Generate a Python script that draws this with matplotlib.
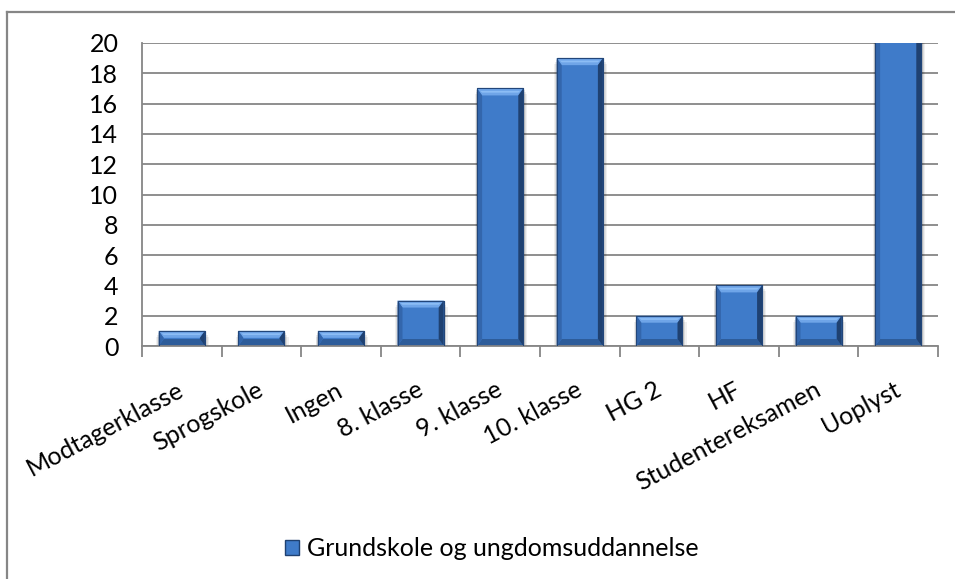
import matplotlib
matplotlib.use("Agg")
import matplotlib.pyplot as plt
import matplotlib.transforms as mtrans
from matplotlib.patches import Polygon, Patch, Rectangle
from matplotlib.lines import Line2D

categories = ["Modtagerklasse", "Sprogskole", "Ingen", "8. klasse", "9. klasse",
              "10. klasse", "HG 2", "HF", "Studentereksamen", "Uoplyst"]
values = [1, 1, 1, 3, 17, 19, 2, 4, 2, 22]
series_name = "Grundskole og ungdomsuddannelse"
yticks = [0, 2, 4, 6, 8, 10, 12, 14, 16, 18, 20]

plt.rcParams['font.family'] = ['Lato', 'DejaVu Sans']

W, H, DPI = 955, 579, 100
fig = plt.figure(figsize=(W / DPI, H / DPI), dpi=DPI)
L, R, T, B = 142, 938, 43, 346
ax = fig.add_axes([L / W, 1 - B / H, (R - L) / W, (B - T) / H])

grey = "#868686"
face = "#3F7BC9"
xs = list(range(len(categories)))
bw = 0.58

ax.set_xlim(-0.5, len(categories) - 0.5)
ax.set_ylim(0, 20)
ax.set_yticks(yticks)
ax.yaxis.grid(True, color=grey, lw=1.3)
ax.set_axisbelow(True)

# soft shadows
px_x = (len(categories)) / (R - L)
px_y = 20 / (B - T)
for i, v in zip(xs, values):
    for k, a in zip([6, 4, 2], [0.06, 0.08, 0.10]):
        ax.add_patch(Rectangle((i - bw / 2 - k * 0.4 * px_x, -k * px_y), bw + k * 1.1 * px_x,
                               v, color="#000000", alpha=a, lw=0, zorder=1.5, clip_on=True))

bars = ax.bar(xs, values, width=bw, color=face, edgecolor="#244a7d", lw=0.8, zorder=2)

dx = 5 * px_x
dy = 7 * px_y
for p in bars:
    x0 = p.get_x(); x1 = x0 + p.get_width(); y0 = 0; y1 = p.get_height()
    polys = [
        ([(x0, y1), (x1, y1), (x1 - dx, y1 - dy), (x0 + dx, y1 - dy)], "#6FA5E8"),
        ([(x0, y0), (x1, y0), (x1 - dx, y0 + dy), (x0 + dx, y0 + dy)], "#2D5C9A"),
        ([(x0, y0), (x0, y1), (x0 + dx, y1 - dy), (x0 + dx, y0 + dy)], "#3366AC"),
        ([(x1, y0), (x1, y1), (x1 - dx, y1 - dy), (x1 - dx, y0 + dy)], "#1F4171"),
    ]
    for pts, c in polys:
        ax.add_patch(Polygon(pts, closed=True, color=c, lw=0, zorder=2.5))
    ax.add_patch(Polygon([(x0 + dx * 0.6, y1 - dy * 0.35), (x1 - dx * 0.6, y1 - dy * 0.35),
                          (x1 - dx, y1 - dy * 0.6), (x0 + dx, y1 - dy * 0.6)],
                         closed=True, color="#8CBDF5", lw=0, zorder=2.6))
    ax.add_patch(Rectangle((x0, y0), x1 - x0, y1, fill=False, ec="#22467a", lw=0.8, zorder=2.7))

for s in ["top", "right"]:
    ax.spines[s].set_visible(False)
for s in ["left", "bottom"]:
    ax.spines[s].set_color(grey)
    ax.spines[s].set_linewidth(1.3)

ax.set_xticks(xs)
ax.set_xticklabels(categories, rotation=28, ha="right", va="top", rotation_mode="anchor")
ax.set_xticks([i - 0.5 for i in xs] + [len(xs) - 0.5], minor=True)
ax.tick_params(axis="x", which="major", length=0, pad=23, labelsize=18)
ax.tick_params(axis="x", which="minor", length=8, width=1.3, color=grey, direction="out")
off = mtrans.ScaledTranslation(-5 / DPI, 0, fig.dpi_scale_trans)
for lab in ax.get_xticklabels():
    lab.set_transform(lab.get_transform() + off)
ax.tick_params(axis="y", length=0, pad=17, labelsize=18)

handle = Patch(facecolor=face, edgecolor="#1F4171", lw=1)
fig.legend([handle], [series_name], loc="center", bbox_to_anchor=(492 / W, 1 - 549 / H),
           frameon=False, fontsize=18, handlelength=0.55, handleheight=0.55, handletextpad=0.35)

fig.add_artist(Line2D([7 / W, 7 / W], [0, 1 - 12 / H], color=grey, lw=1.6, transform=fig.transFigure))
fig.add_artist(Line2D([7 / W, 1], [1 - 12 / H, 1 - 12 / H], color=grey, lw=1.6, transform=fig.transFigure))

fig.savefig("out.png", dpi=DPI)
